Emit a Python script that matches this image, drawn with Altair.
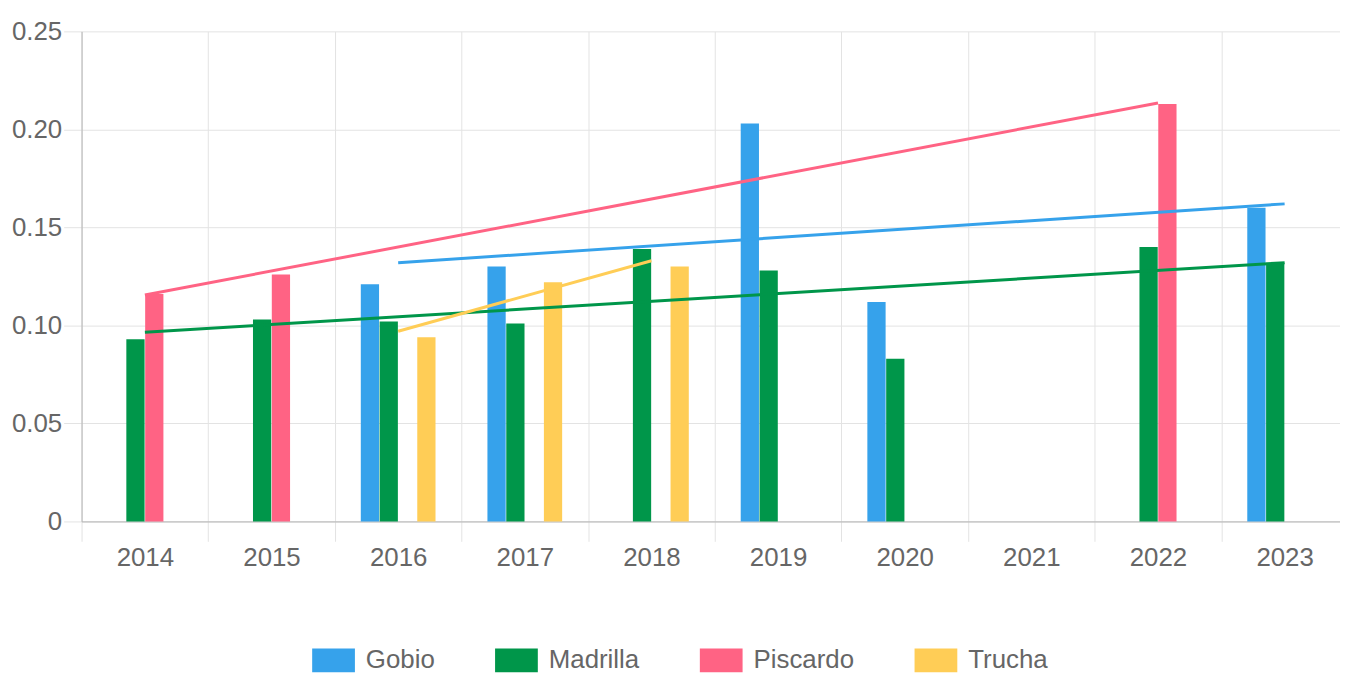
import altair as alt
import pandas as pd

years = ["2014", "2015", "2016", "2017", "2018", "2019", "2020", "2021", "2022", "2023"]
series_names = ["Gobio", "Madrilla", "Piscardo", "Trucha"]
series_colors = ["#36A2EB", "#00964A", "#FF6384", "#FFCD56"]

gobio = [None, None, 0.121, 0.130, None, 0.203, 0.112, None, None, 0.160]
madrilla = [0.093, 0.103, 0.102, 0.101, 0.139, 0.128, 0.083, None, 0.140, 0.132]
piscardo = [0.116, 0.126, None, None, None, None, None, None, 0.213, None]
trucha = [None, None, 0.094, 0.122, 0.130, None, None, None, None, None]

trend_series = ["Gobio", "Madrilla", "Piscardo", "Trucha"]
trend_start_year = ["2016", "2014", "2014", "2016"]
trend_start_value = [0.132, 0.0965, 0.1155, 0.097]
trend_end_year = ["2023", "2023", "2022", "2018"]
trend_end_value = [0.162, 0.132, 0.2135, 0.133]

y_ticks = [0, 0.05, 0.10, 0.15, 0.20, 0.25]

rows = []
for name, vals in zip(series_names, [gobio, madrilla, piscardo, trucha]):
    for yr, v in zip(years, vals):
        if v is not None:
            rows.append({"year": yr, "series": name, "value": v})
bars_df = pd.DataFrame(rows)

trows = []
for s, y0, v0, y1, v1 in zip(trend_series, trend_start_year, trend_start_value,
                             trend_end_year, trend_end_value):
    trows.append({"year": y0, "series": s, "value": v0})
    trows.append({"year": y1, "series": s, "value": v1})
trend_df = pd.DataFrame(trows)

FONT = "Liberation Sans"
GRID = "#e3e3e3"
DOMAIN = "#b3b3b3"
LABEL = "#666666"
FS = 26

x_scale = alt.Scale(domain=years, range=[0, 1274], paddingInner=0.41, paddingOuter=0.205)
y_scale = alt.Scale(domain=[0, 0.25], nice=False, zero=True)

x_axis = alt.Axis(title=None, tickOffset=-63.7, labelOffset=63.7, tickSize=20,
                  tickColor=GRID, gridColor=GRID, grid=True, domainColor=DOMAIN,
                  labelFontSize=FS, labelColor=LABEL, labelFont=FONT,
                  labelPadding=3, labelAngle=0)
y_axis = alt.Axis(title=None, values=y_ticks,
                  labelExpr="datum.value == 0 ? '0' : format(datum.value, '.2f')",
                  tickSize=18, tickColor=GRID, gridColor=GRID, grid=True,
                  domainColor=DOMAIN, labelFontSize=FS, labelColor=LABEL,
                  labelFont=FONT, labelPadding=2)

legend = alt.Legend(orient="none", legendX=232, legendY=611, direction="horizontal",
                    title=None, symbolType="M-1,-0.56L1,-0.56L1,0.56L-1,0.56Z",
                    symbolSize=1849, symbolStrokeWidth=0, labelFontSize=FS,
                    labelColor=LABEL, labelFont=FONT, labelOffset=11,
                    columnPadding=60, padding=0, symbolOpacity=1)

bars = alt.Chart(bars_df).mark_bar().encode(
    x=alt.X("year:N", scale=x_scale, axis=x_axis, sort=years),
    xOffset=alt.XOffset("series:N", scale=alt.Scale(domain=series_names,
                                                    paddingInner=0.03, paddingOuter=0)),
    y=alt.Y("value:Q", scale=y_scale, axis=y_axis),
    color=alt.Color("series:N", scale=alt.Scale(domain=series_names, range=series_colors),
                    legend=legend),
)

lines = alt.Chart(trend_df).mark_line(strokeWidth=3).encode(
    x=alt.X("year:N", scale=x_scale, sort=years),
    y=alt.Y("value:Q", scale=y_scale),
    detail="series:N",
    stroke=alt.Stroke("series:N", scale=alt.Scale(domain=series_names, range=series_colors),
                      legend=None),
)

chart = alt.layer(bars, lines).properties(
    width=1266, height=493,
    autosize=alt.AutoSizeParams(type="none"),
    padding={"left": 74, "top": 21.5, "right": 0, "bottom": 156},
    background="white",
).configure_view(strokeWidth=0)

chart.save("out.html", embed_options={"renderer": "svg", "actions": False})
